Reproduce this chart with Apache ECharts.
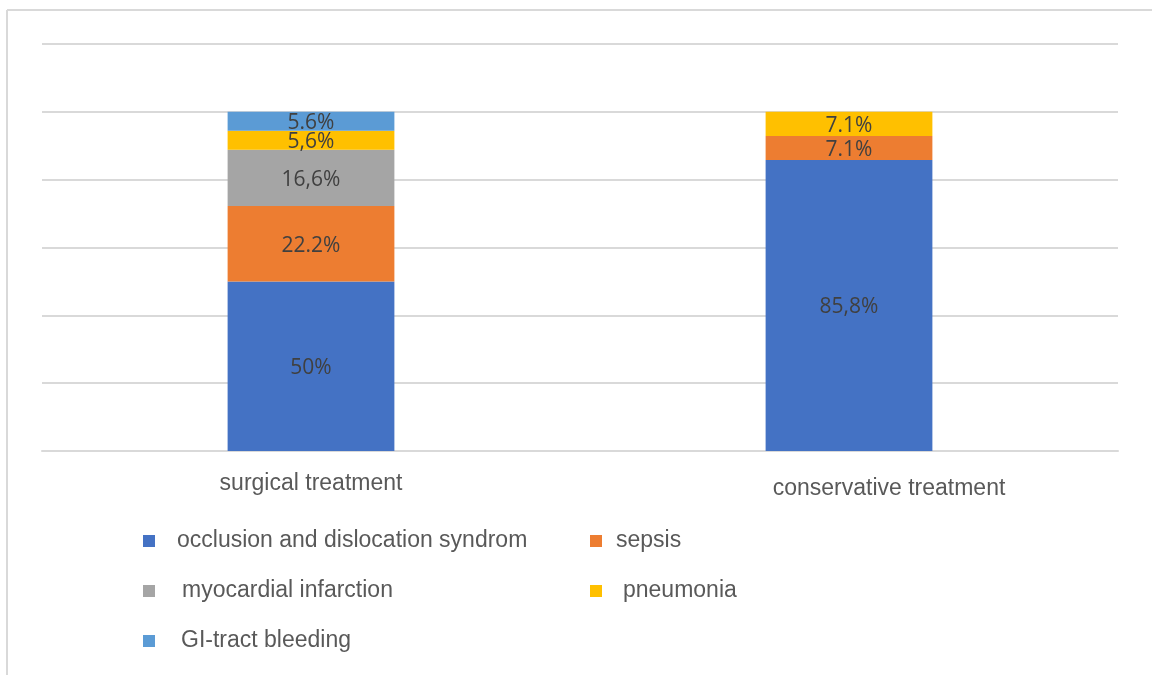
<!DOCTYPE html>
<html>
<head>
<meta charset="utf-8">
<script src="https://cdn.jsdelivr.net/npm/echarts@6/dist/echarts.min.js"></script>
<style>
  html, body { margin: 0; padding: 0; background: #ffffff; }
  #chart { width: 1152px; height: 675px; }
</style>
</head>
<body>
<div id="chart"></div>
<script>
// Causes of death by treatment group, stacked to 100%
var categories = ['surgical treatment', 'conservative treatment'];

var seriesNames = [
  'occlusion and dislocation syndrom',
  'sepsis',
  'myocardial infarction',
  'pneumonia',
  'GI-tract bleeding'
];

var occlusionValues = [50, 85.8];
var sepsisValues = [22.2, 7.1];
var infarctionValues = [16.6, null];
var pneumoniaValues = [5.6, 7.1];
var bleedingValues = [5.6, null];

// decimal mark used in each printed label
var occlusionMarks = ['.', ','];
var sepsisMarks = ['.', '.'];
var infarctionMarks = [',', '.'];
var pneumoniaMarks = [',', '.'];
var bleedingMarks = ['.', '.'];

var yTicks = [0, 20, 40, 60, 80, 100, 120];

var colors = ['#4472C4', '#ED7D31', '#A5A5A5', '#FFC000', '#5B9BD5'];

var valueSets = [occlusionValues, sepsisValues, infarctionValues, pneumoniaValues, bleedingValues];
var markSets = [occlusionMarks, sepsisMarks, infarctionMarks, pneumoniaMarks, bleedingMarks];

var labelFont = '"Open Sans", "DejaVu Sans", sans-serif';
var textFont = '"Liberation Sans", Arial, sans-serif';

var series = seriesNames.map(function (name, i) {
  return {
    name: name,
    type: 'bar',
    stack: 'total',
    barWidth: '31%',
    data: valueSets[i],
    itemStyle: { color: colors[i] },
    label: {
      show: true,
      position: 'inside',
      offset: [0, 2],
      fontFamily: labelFont,
      fontSize: 21,
      color: '#404040',
      formatter: function (p) {
        if (p.value == null) return '';
        return String(p.value).replace('.', markSets[i][p.dataIndex]) + '%';
      }
    }
  };
});

// legend placement: two columns, three rows
var legendSpots = [
  { left: 143, top: 529, gap: 17 },
  { left: 590, top: 529, gap: 9 },
  { left: 143, top: 579, gap: 22 },
  { left: 590, top: 579, gap: 16 },
  { left: 143, top: 629, gap: 21 }
];

var legends = seriesNames.map(function (name, i) {
  return {
    data: [name],
    left: legendSpots[i].left,
    top: legendSpots[i].top,
    padding: 0,
    icon: 'rect',
    itemWidth: 12,
    itemHeight: 12,
    selectedMode: false,
    textStyle: {
      fontFamily: textFont,
      fontSize: 23,
      color: '#595959',
      lineHeight: 24,
      padding: [0, 0, 0, legendSpots[i].gap]
    }
  };
});

var chart = echarts.init(document.getElementById('chart'), null, { renderer: 'canvas' });

chart.setOption({
  backgroundColor: '#ffffff',
  animation: false,
  color: colors,
  grid: { left: 42, right: 34, top: 44, bottom: 224, containLabel: false },
  legend: legends,
  xAxis: {
    type: 'category',
    data: [
      categories[0],
      { value: categories[1], textStyle: { padding: [5, 0, 0, 80] } }
    ],
    axisTick: { show: false },
    axisLine: { show: true, lineStyle: { color: '#d9d9d9', width: 2 } },
    axisLabel: {
      margin: 21,
      fontFamily: textFont,
      fontSize: 23,
      color: '#595959'
    }
  },
  yAxis: {
    type: 'value',
    min: yTicks[0],
    max: yTicks[yTicks.length - 1],
    interval: yTicks[1] - yTicks[0],
    axisLabel: { show: false },
    axisLine: { show: false },
    axisTick: { show: false },
    splitLine: { lineStyle: { color: '#d9d9d9', width: 2 } }
  },
  graphic: [
    { type: 'line', shape: { x1: 7, y1: 10, x2: 1152, y2: 10 }, style: { stroke: '#d9d9d9', lineWidth: 2 } },
    { type: 'line', shape: { x1: 7, y1: 10, x2: 7, y2: 675 }, style: { stroke: '#d9d9d9', lineWidth: 2 } }
  ],
  series: series
});
</script>
</body>
</html>
